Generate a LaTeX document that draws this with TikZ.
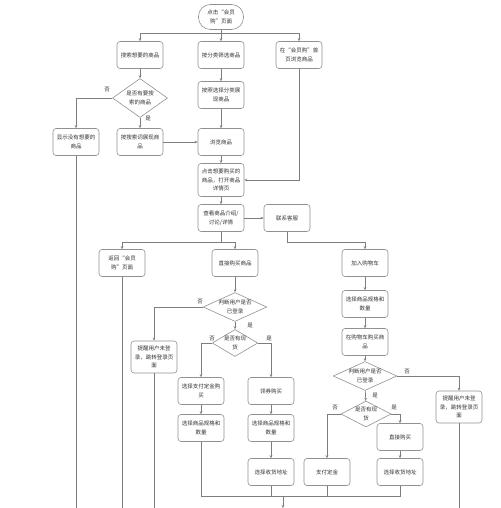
\documentclass[tikz,border=0pt]{standalone}
\usepackage{fontspec}
\newfontfamily\cjk{Noto Sans CJK SC}
\usetikzlibrary{shapes.geometric,arrows.meta}
\definecolor{ln}{RGB}{125,125,125}
\definecolor{bd}{RGB}{145,145,145}
\definecolor{tx}{RGB}{50,50,50}
\tikzset{
  box/.style={draw=bd, line width=0.6pt, rounded corners=3pt, minimum width=46pt, minimum height=27pt,
    inner sep=1pt, align=center, text=tx, font=\cjk\fontsize{5.5}{8.8}\selectfont},
  tall/.style={box, minimum height=33pt},
  term/.style={box, rounded corners=12pt, minimum width=45pt, minimum height=25pt},
  dia/.style={draw=bd, line width=0.6pt, diamond, inner sep=0pt, align=center, text=tx,
    font=\cjk\fontsize{5.5}{8.8}\selectfont},
  lbl/.style={text=tx, font=\cjk\fontsize{5.5}{7}\selectfont, inner sep=0pt},
  ln/.style={draw=ln, line width=0.6pt},
  arr/.style={ln, -{Stealth[length=3pt,width=2.6pt]}}
}
\begin{document}
\begin{tikzpicture}[x=1pt,y=-1pt]
\useasboundingbox (0,0) rectangle (500,508);
% nodes
\node[term] (s) at (221,17) {点击“会员\\购”页面};
\node[box] (b2) at (140,55) {搜索想要的商品};
\node[box] (b3) at (221,55) {按分类筛选商品};
\node[box] (b4) at (299,55) {在“会员购”首\\页浏览商品};
\node[box] (b5) at (221,95) {按照选择分类展\\现商品};
\node[dia, minimum width=55pt, minimum height=39pt, aspect=1.4] (d1) at (140,98) {是否有要搜\\索的商品};
\node[box] (b7) at (76,142) {显示没有想要的\\商品};
\node[box] (b8) at (140,142) {按搜索词展现商\\品};
\node[box] (b9) at (221,142) {浏览商品};
\node[tall] (b10) at (221,180) {点击想要购买的\\商品，打开商品\\详情页};
\node[box] (b11) at (221,218) {查看商品介绍/\\讨论/详情};
\node[box] (b12) at (287,218) {联系客服};
\node[box] (b13) at (122,263) {返回“会员\\购”页面};
\node[box] (b14) at (235,263) {直接购买商品};
\node[box] (b15) at (365,263) {加入购物车};
\node[box] (b16) at (365,304) {选择商品规格和\\数量};
\node[box] (b17) at (365,342) {在购物车购买商\\品};
\node[dia, minimum width=60pt, minimum height=27pt, aspect=2.2] (d4) at (365,376) {判断用户是否\\已登录};
\node[tall, minimum height=32pt] (b19) at (459,407) {提醒用户未登\\录，跳转登录页\\面};
\node[dia, minimum width=50pt, minimum height=26pt, aspect=1.9] (d5) at (366,414) {是否有现\\货};
\node[box] (b21) at (400,437) {直接购买};
\node[box] (b22) at (400,472) {选择收货地址};
\node[box] (b23) at (327,472) {支付定金};
\node[dia, minimum width=61pt, minimum height=28pt, aspect=2.2] (d2) at (235,307) {判断用户是否\\已登录};
\node[tall, minimum height=32pt] (b25) at (154,357) {提醒用户未登\\录，跳转登录页\\面};
\node[dia, minimum width=45pt, minimum height=27pt, aspect=1.7] (d3) at (235,343) {是否有现\\货};
\node[box] (b27) at (201,391) {选择支付定金购\\买};
\node[box] (b28) at (201,428) {选择商品规格和\\数量};
\node[box] (b29) at (271,391) {领券购买};
\node[box] (b30) at (271,428) {选择商品规格和\\数量};
\node[box] (b31) at (271,472) {选择收货地址};
% labels
\node[lbl] at (107,90) {否};
\node[lbl] at (148,119) {是};
\node[lbl] at (200,302) {否};
\node[lbl] at (250,326) {是};
\node[lbl] at (212,339) {否};
\node[lbl] at (269,339) {是};
\node[lbl] at (407,372) {否};
\node[lbl] at (375,396) {是};
\node[lbl] at (335,408) {否};
\node[lbl] at (394,408) {是};
% junction coordinates
\coordinate (j1) at (221,33);
\coordinate (j2) at (221,242);
\coordinate (j3) at (287,242);
\coordinate (jb) at (283,496);
\coordinate (end) at (283,508);
\coordinate (e7) at (76,508);
\coordinate (e13) at (122,508);
\coordinate (e25) at (154,508);
\coordinate (e19) at (459,508);
% connectors
\draw[arr] (s) -- (b3);
\draw[arr] (j1) -| (b2);
\draw[arr] (j1) -| (b4);
\draw[arr] (b2) -- (d1);
\draw[arr] (d1.west) -| (b7);
\draw[arr] (d1) -- (b8);
\draw[arr] (b3) -- (b5);
\draw[arr] (b5) -- (b9);
\draw[arr] (b8) -- (b9);
\draw[arr] (b9) -- (b10);
\draw[arr] (b4) |- (b10);
\draw[arr] (b10) -- (b11);
\draw[arr] (b11) -- (b12);
\draw[ln] (b7) -- (e7);
\draw[ln] (b11) -- (j2);
\draw[ln] (b12) -- (j3);
\draw[arr] (j2) -| (b13);
\draw[arr] (j2) -| (b14);
\draw[arr] (j3) -| (b15);
\draw[ln] (b13) -- (e13);
\draw[arr] (b14) -- (d2);
\draw[arr] (d2.west) -| (b25);
\draw[arr] (d2) -- (d3);
\draw[ln] (b25) -- (e25);
\draw[arr] (d3.west) -| (b27);
\draw[arr] (d3.east) -| (b29);
\draw[arr] (b27) -- (b28);
\draw[arr] (b29) -- (b30);
\draw[arr] (b30) -- (b31);
\draw[arr] (b15) -- (b16);
\draw[arr] (b16) -- (b17);
\draw[arr] (b17) -- (d4);
\draw[arr] (d4.east) -| (b19);
\draw[arr] (d4) -- (d5);
\draw[ln] (b19) -- (e19);
\draw[arr] (d5.west) -| (b23);
\draw[arr] (d5.east) -| (b21);
\draw[arr] (b21) -- (b22);
\draw[ln] (b28) |- (jb);
\draw[ln] (b31) |- (jb);
\draw[ln] (b23) |- (jb);
\draw[ln] (b22) |- (jb);
\draw[arr] (jb) -- (end);
\end{tikzpicture}
\end{document}
